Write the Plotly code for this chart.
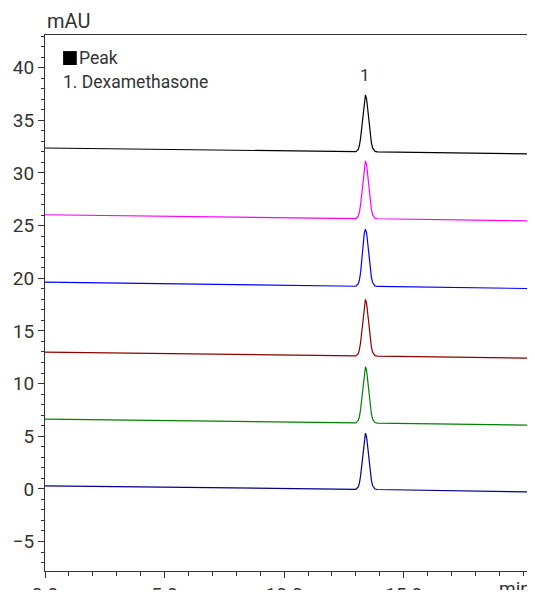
import plotly.graph_objects as go

# Retention time (min)
time_min = [0.0, 12.9, 13.0, 13.1, 13.15, 13.2, 13.25, 13.3, 13.35, 13.4, 13.45,
            13.5, 13.55, 13.6, 13.65, 13.7, 13.8, 13.9, 20.4]

# Signals (mAU), top to bottom
sig_black = [32.37, 32.0, 32.02, 32.24, 32.62, 33.35, 34.48, 35.83, 36.97, 37.4, 37.02,
             36.0, 34.75, 33.67, 32.86, 32.38, 32.05, 32.0, 31.8]
sig_magenta = [26.03, 25.66, 25.67, 25.89, 26.28, 27.03, 28.18, 29.56, 30.71, 31.15, 30.77,
               29.72, 28.46, 27.36, 26.53, 26.04, 25.70, 25.65, 25.45]
sig_blue = [19.64, 19.22, 19.24, 19.46, 19.84, 20.58, 21.73, 23.09, 24.23, 24.67, 24.29,
            23.25, 22.0, 20.91, 20.09, 19.60, 19.27, 19.22, 19.02]
sig_red = [12.99, 12.6, 12.62, 12.84, 13.22, 13.95, 15.08, 16.43, 17.57, 18.0, 17.62,
           16.6, 15.35, 14.27, 13.46, 12.98, 12.65, 12.6, 12.4]
sig_green = [6.62, 6.25, 6.27, 6.49, 6.86, 7.59, 8.71, 10.05, 11.17, 11.6, 11.23,
             10.21, 8.98, 7.91, 7.11, 6.62, 6.30, 6.25, 6.05]
sig_navy = [0.29, -0.06, -0.04, 0.18, 0.55, 1.28, 2.40, 3.74, 4.86, 5.29, 4.92,
            3.90, 2.67, 1.60, 0.80, 0.31, -0.01, -0.06, -0.3]

series = [sig_black, sig_magenta, sig_blue, sig_red, sig_green, sig_navy]
colors = ["#000000", "#ff00ff", "#0000ff", "#8b0000", "#008000", "#00008b"]

x_tickvals = [0, 5, 10, 15]
x_ticktext = ["0.0", "5.0", "10.0", "15.0"]
y_tickvals = [-5, 0, 5, 10, 15, 20, 25, 30, 35, 40]

peak_label = "1"
peak_time = 13.4
peak_label_y = 39.3

FONT = "Roboto"
TXT = "#333333"

fig = go.Figure()
for s, c in zip(series, colors):
    fig.add_trace(go.Scatter(x=time_min, y=s, mode="lines",
                             line=dict(color=c, width=1.2), showlegend=False,
                             hoverinfo="skip"))

fig.add_annotation(x=peak_time, y=peak_label_y, text=peak_label, showarrow=False,
                   font=dict(family=FONT, size=17, color=TXT))
fig.add_annotation(x=0, y=1.0, xref="paper", yref="paper", xanchor="left", yanchor="bottom",
                   text="mAU", showarrow=False, yshift=0,
                   font=dict(family=FONT, size=20, color=TXT))
fig.add_annotation(x=1.0, y=0, xref="paper", yref="paper", xanchor="right", yanchor="top",
                   text="min", showarrow=False, yshift=-4, xshift=-1,
                   font=dict(family=FONT, size=19, color=TXT))
# legend marker square
fig.add_shape(type="rect", xref="paper", yref="paper", x0=0.037, x1=0.065, y0=0.944, y1=0.970,
              fillcolor="#000000", line=dict(width=0))
fig.add_annotation(x=0.066, y=0.957, xref="paper", yref="paper", xanchor="left", yanchor="middle",
                   text="Peak", showarrow=False,
                   font=dict(family=FONT, size=17.5, color=TXT))
fig.add_annotation(x=0.033, y=0.913, xref="paper", yref="paper", xanchor="left", yanchor="middle",
                   text="1. Dexamethasone", showarrow=False,
                   font=dict(family=FONT, size=17.5, color=TXT))

axis_common = dict(showline=True, linecolor="#333333", linewidth=1, mirror=True,
                   showgrid=False, zeroline=False, ticks="outside", tickcolor="#333333",
                   ticklen=6, tickwidth=1, automargin=False,
                   tickfont=dict(family=FONT, size=19, color=TXT))

fig.update_xaxes(range=[0, 20.45], tickvals=x_tickvals, ticktext=x_ticktext,
                 minor=dict(tickvals=list(range(0, 21)), ticks="outside", ticklen=4,
                            tickcolor="#333333"),
                 **axis_common)
fig.update_yaxes(range=[-7.8, 43.1], tickvals=y_tickvals,
                 minor=dict(dtick=1, ticks="outside", ticklen=3, tickcolor="#333333"),
                 **axis_common)

fig.update_layout(width=527, height=582, margin=dict(l=37, r=1, t=27, b=19),
                  plot_bgcolor="white", paper_bgcolor="white")

fig.write_html("out.html")
